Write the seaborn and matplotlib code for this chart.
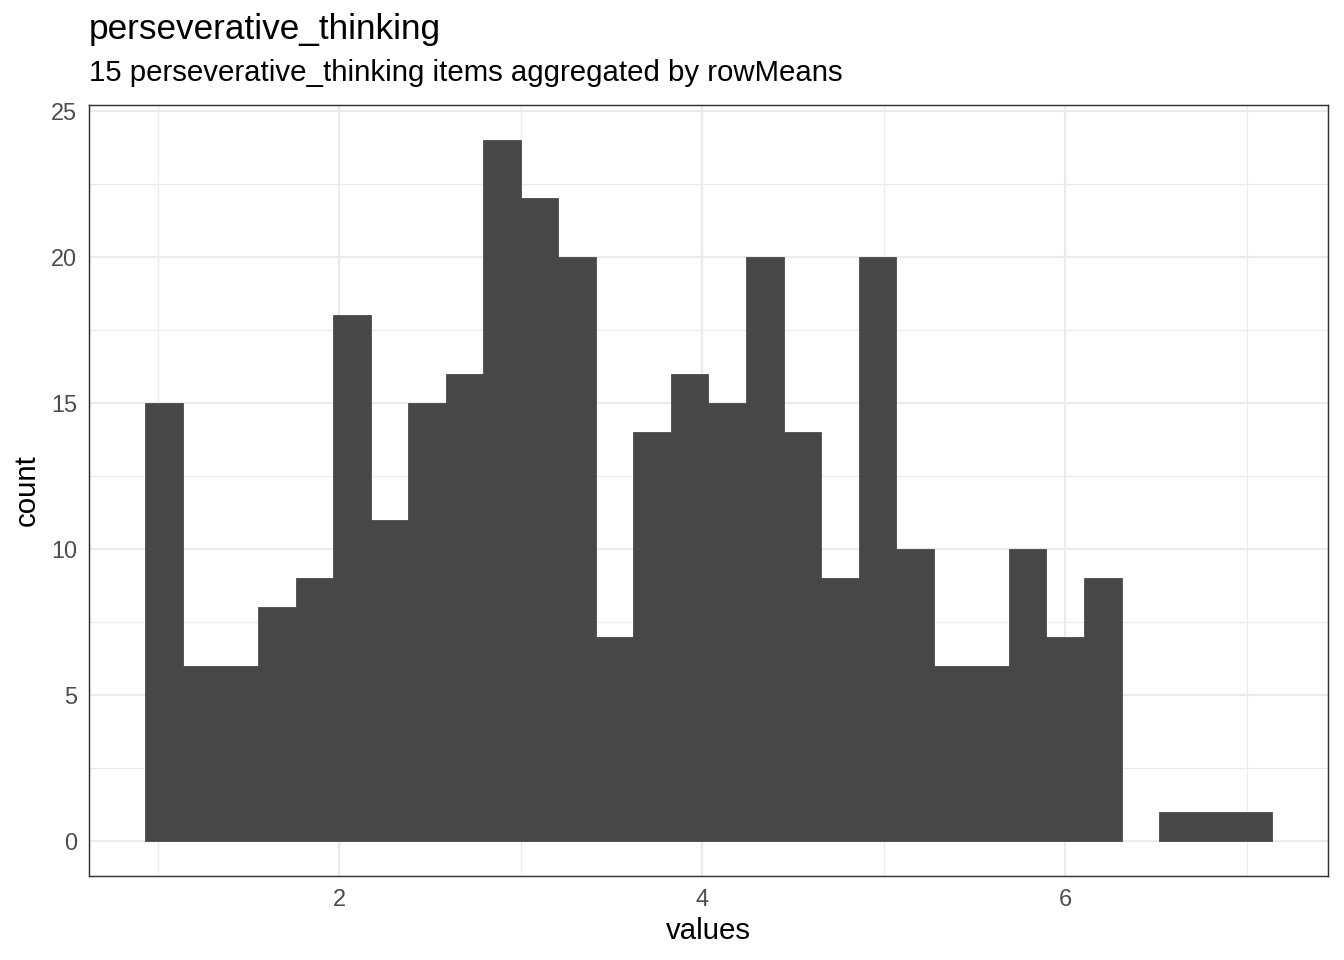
import numpy as np
import pandas as pd
import matplotlib
matplotlib.use("Agg")
import matplotlib.pyplot as plt
import seaborn as sns

# ---- data (30 bins) ----
title = "perseverative_thinking"
subtitle = "15 perseverative_thinking items aggregated by rowMeans"
x_label = "values"
y_label = "count"
value_min = 1.0
value_max = 7.0
n_bins = 30
counts = [15, 6, 6, 8, 9, 18, 11, 15, 16, 24, 22, 20, 7, 14, 16,
          15, 20, 14, 9, 20, 10, 6, 6, 10, 7, 9, 0, 1, 1, 1]
x_ticks = [2, 4, 6]
y_ticks = [0, 5, 10, 15, 20, 25]

# ggplot2-style bin breaks (bins = 30)
width = (value_max - value_min) / (n_bins - 1)
boundary = width / 2
shift = np.floor((value_min - boundary) / width)
origin = boundary + shift * width
edges = [float(origin + width * k) for k in range(n_bins + 1)]
centers = [(edges[i] + edges[i + 1]) / 2 for i in range(n_bins)]
df = pd.DataFrame({"values": centers, "count": counts})

sns.set_theme(style="white")
plt.rcParams["font.family"] = ["Liberation Sans", "DejaVu Sans"]

fig = plt.figure(figsize=(7, 5), dpi=192)
W, H = 1344, 960
left, right, top, bottom = 89, 1328, 105, 876
ax = fig.add_axes([left / W, 1 - bottom / H, (right - left) / W, (bottom - top) / H])

bar_color = "#474747"
sns.histplot(data=df, x="values", weights="count", bins=edges, ax=ax,
             color=bar_color, alpha=1, edgecolor=bar_color, linewidth=0.3)
# empty bins draw nothing (as in ggplot)
for p in ax.patches:
    if p.get_height() == 0:
        p.set_visible(False)

# limits like ggplot (5% expansion)
xr = edges[-1] - edges[0]
ax.set_xlim(edges[0] - 0.05 * xr, edges[-1] + 0.05 * xr)
ymax = max(counts)
ax.set_ylim(-0.05 * ymax, ymax * 1.05)

ax.set_xticks(x_ticks)
ax.set_yticks(y_ticks)
ax.set_xticks([1, 3, 5, 7], minor=True)
ax.set_yticks([2.5, 7.5, 12.5, 17.5, 22.5], minor=True)
ax.set_axisbelow(True)
ax.grid(which="major", color="#EBEBEB", linewidth=0.85)
ax.grid(which="minor", color="#EBEBEB", linewidth=0.45)

for s in ax.spines.values():
    s.set_visible(True)
    s.set_color("#333333")
    s.set_linewidth(0.55)

ax.tick_params(axis="both", which="major", length=2.0, width=0.55, color="#333333",
               labelsize=8.8, labelcolor="#4D4D4D", pad=2.5, direction="out")
ax.tick_params(axis="both", which="minor", length=0)

ax.set_xlabel(x_label, fontsize=11, color="black")
ax.set_ylabel(y_label, fontsize=11, color="black")
ax.xaxis.label.set_va("baseline")
ax.yaxis.label.set_va("baseline")
ax.xaxis.set_label_coords(0.5, (bottom - 939) / (bottom - top))
ax.yaxis.set_label_coords((35 - left) / (right - left), 0.5)

fig.text(left / W, 1 - 39 / H, title, fontsize=13.2, ha="left", va="baseline", color="black")
fig.text(left / W, 1 - 81 / H, subtitle, fontsize=11, ha="left", va="baseline", color="black")

fig.savefig("out.png", dpi=192)
